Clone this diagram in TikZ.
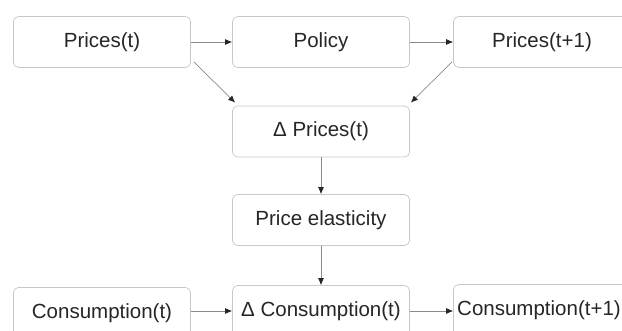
\documentclass[tikz,border=0pt]{standalone}
\usepackage{fontspec}
\setmainfont{Liberation Sans}
\usetikzlibrary{arrows.meta,calc}
\definecolor{boxline}{HTML}{C8C8C8}
\definecolor{arrline}{HTML}{8A8A8A}
\definecolor{txt}{HTML}{262626}
\begin{document}
\begin{tikzpicture}[x=1pt,y=-1pt,
  stepbox/.style={draw=boxline,line width=0.7pt,rounded corners=5pt,fill=white,
    minimum width=177pt,minimum height=51pt,inner sep=0pt,text=txt,
    font=\fontsize{20.5}{24}\selectfont},
  conn/.style={draw=arrline,line width=0.7pt,
    -{Latex[length=7pt,width=6pt,color=black!85]}}]
\path[use as bounding box] (0,0) rectangle (622,331);
\begin{scope}
\clip (0,0) rectangle (622,331);
\node[stepbox] (p1) at (102,42) {Prices(t)};
\node[stepbox] (pol) at (321,42) {Policy};
\node[stepbox] (p2) at (542,42) {Prices(t+1)};
\node[stepbox] (dp) at (321,131.5) {Δ Prices(t)};
\node[stepbox] (el) at (321,220) {Price elasticity};
\node[stepbox] (c1) at (102,313) {Consumption(t)};
\node[stepbox] (dc) at (321,311) {Δ Consumption(t)};
\node[stepbox] (c2) at (542,310) {\hspace*{-6pt}Consumption(t+1)};
\draw[conn] (p1.east) -- (pol.west);
\draw[conn] (pol.east) -- (p2.west);
\draw[conn] ($(p1.south east)+(3,-6)$) -- ($(dp.north west)+(3,-3)$);
\draw[conn] ($(p2.south west)+(-1,-6)$) -- ($(dp.north east)+(1,-3)$);
\draw[conn] (dp.south) -- (el.north);
\draw[conn] (el.south) -- (dc.north);
\draw[conn] (c1.east |- dc.west) -- (dc.west);
\draw[conn] (dc.east) -- (c2.west |- dc.east);
\end{scope}
\end{tikzpicture}
\end{document}
